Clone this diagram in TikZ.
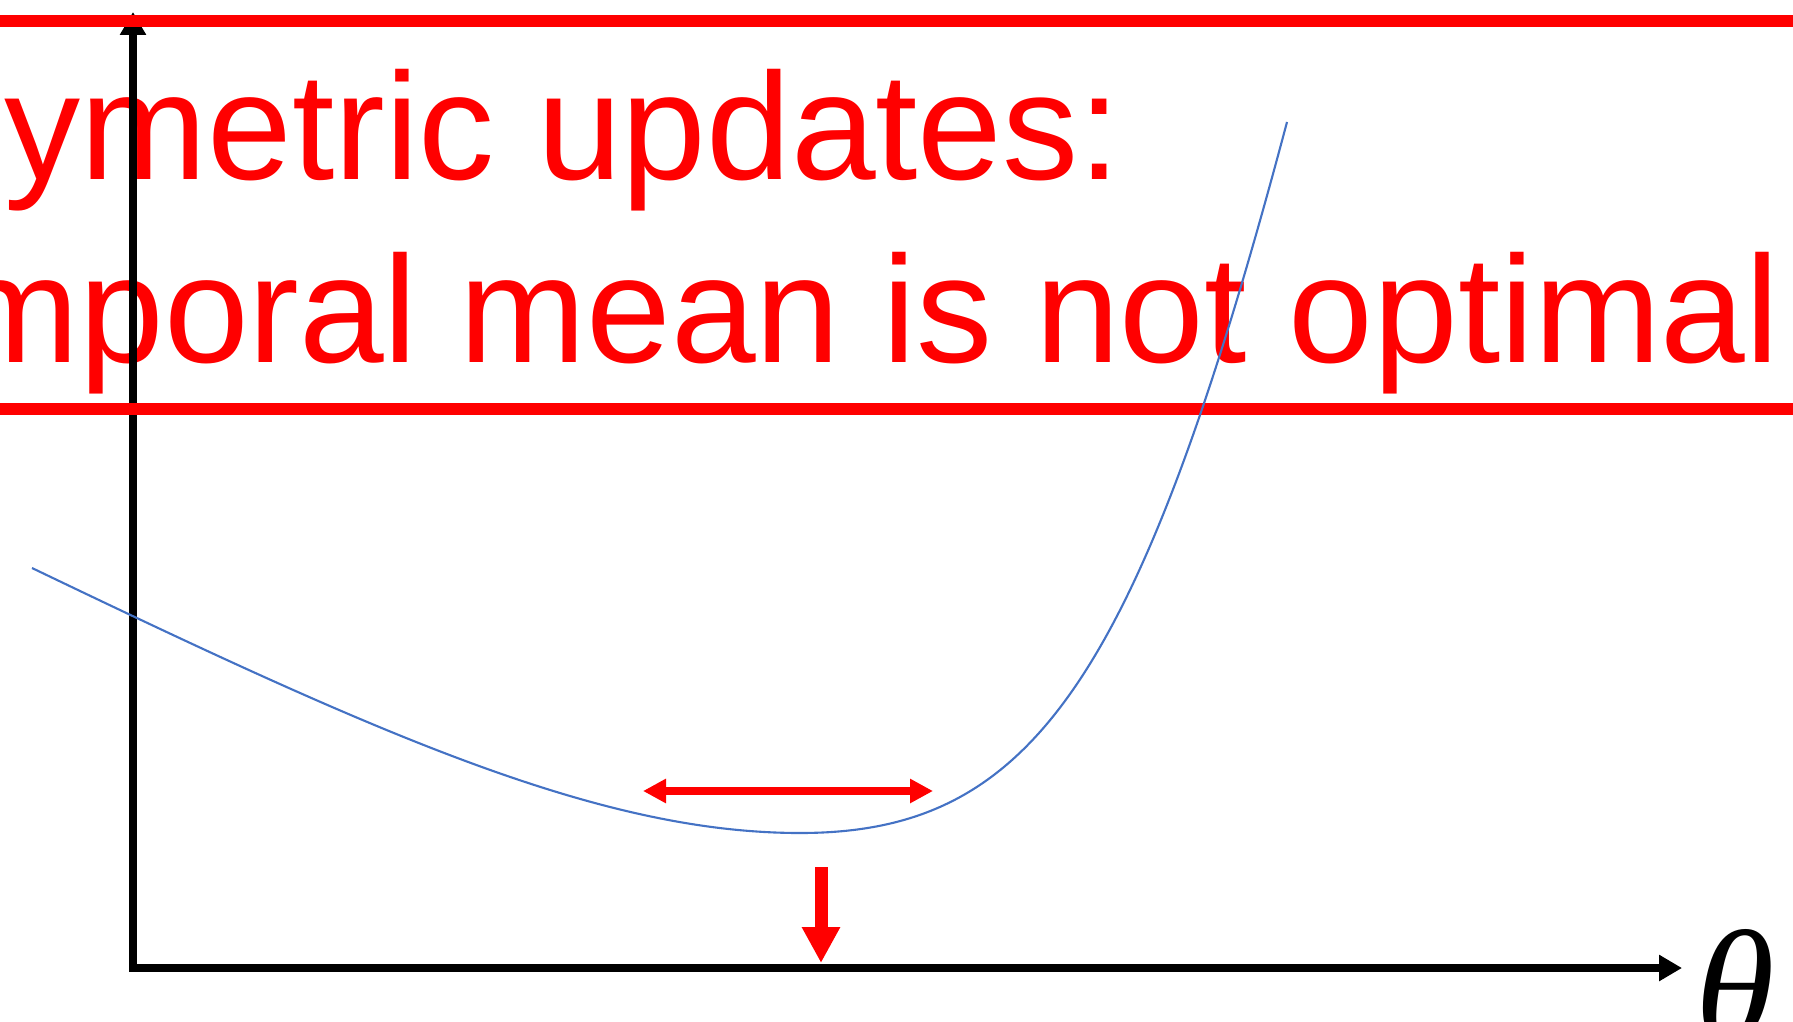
\documentclass[tikz,border=0pt]{standalone}
\usepackage{fontspec}
\setmainfont{Liberation Sans}
\newfontfamily\thetafont{Liberation Serif}
\usetikzlibrary{arrows.meta,calc}
\definecolor{CurveClr}{HTML}{4472C4}
\definecolor{MarkClr}{rgb}{1,0,0}

\begin{document}
\begin{tikzpicture}[
  axis/.style={line width=0.08cm,black},
  band/.style={line width=0.12cm,MarkClr},
  curve/.style={line width=0.6pt,CurveClr},
  title/.style={anchor=base west,inner sep=0pt,text=MarkClr,font=\fontsize{43.3}{52}\selectfont}]
\useasboundingbox (0,0) rectangle (17.93,10.21);

\node[title] (line1) at (0.04,8.41) {ymetric updates:};
\node[title] (line2) at (-0.48,6.59) {mporal mean is not optimal};

\coordinate (O) at (1.33,0.53);
\coordinate (ytip) at (1.33,10.09);
\coordinate (xtip) at (16.82,0.53);
\draw[axis,{Triangle[length=0.23cm,width=0.25cm]}-{Triangle[length=0.23cm,width=0.25cm]}] (ytip) -- (O) -- (xtip);

\node[anchor=base west,inner sep=0pt,font=\thetafont\itshape\fontsize{46}{50}\selectfont] (thetalbl) at (16.95,-0.21) {θ};

% red bands
\coordinate (topL) at (0,10.00);
\coordinate (topR) at (17.93,10.00);
\coordinate (botL) at (0,6.12);
\coordinate (botR) at (17.93,6.12);
\draw[band] (topL) -- (topR);
\draw[band] (botL) -- (botR);

% loss curve
\coordinate (cStart) at (0.32,4.53);
\coordinate (cMin) at (8.00,1.88);
\coordinate (cEnd) at (12.87,8.99);
\draw[curve] (cStart) .. controls (3.82,2.85) and (6.00,1.88) .. (cMin)
  .. controls (10.30,1.88) and (11.37,3.35) .. (cEnd);

\coordinate (spreadL) at (6.43,2.30);
\coordinate (spreadR) at (9.33,2.30);
\draw[line width=0.08cm,MarkClr,{Triangle[length=0.23cm,width=0.23cm]}-{Triangle[length=0.23cm,width=0.23cm]}] (spreadL) -- (spreadR);

\coordinate (meanTop) at (8.21,1.54);
\coordinate (meanBot) at (8.21,0.58);
\draw[line width=0.13cm,MarkClr,-{Triangle[length=0.36cm,width=0.36cm]}] (meanTop) -- (meanBot);

\end{tikzpicture}
\end{document}
